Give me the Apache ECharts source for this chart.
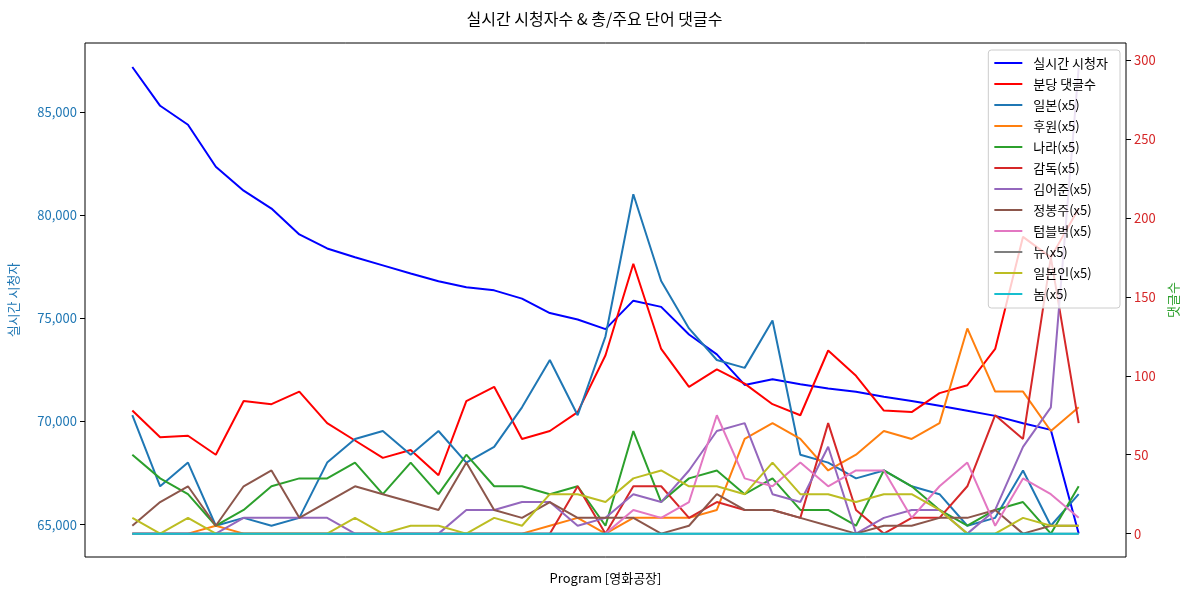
<!DOCTYPE html>
<html>
<head>
<meta charset="utf-8">
<script src="https://cdn.jsdelivr.net/npm/echarts@6/dist/echarts.min.js"></script>
<style>html,body{margin:0;padding:0;background:#fff;}#c{width:1189px;height:592px;}</style>
</head>
<body>
<div id="c"></div>
<script>
// ---- data ----
const viewers = [87170, 85290, 84370, 82340, 81180, 80310, 79060, 78380, 77950, 77560, 77170, 76790, 76500, 76350, 75950, 75250, 74940, 74470, 75850, 75550, 74210, 73250, 71770, 72040, 71800, 71590, 71440, 71200, 70990, 70760, 70520, 70270, 69910, 69590, 64570];
const commentsPerMin = [78, 61, 62, 50, 84, 82, 90, 70, 59, 48, 53, 37, 84, 93, 60, 65, 77, 113, 171, 117, 93, 104, 95, 82, 75, 116, 100, 78, 77, 89, 94, 117, 188, 175, 206];
const japan = [75, 30, 45, 5, 10, 5, 10, 45, 60, 65, 50, 65, 45, 55, 80, 110, 75, 125, 215, 160, 130, 110, 105, 135, 50, 45, 35, 40, 30, 25, 5, 10, 40, 5, 25];
const support = [0, 0, 0, 5, 0, 0, 0, 0, 0, 0, 0, 0, 0, 0, 0, 5, 10, 0, 10, 10, 10, 15, 60, 70, 60, 40, 50, 65, 60, 70, 130, 90, 90, 65, 80];
const nation = [50, 35, 25, 5, 15, 30, 35, 35, 45, 25, 45, 25, 50, 30, 30, 25, 30, 5, 65, 20, 35, 40, 25, 35, 15, 15, 5, 40, 30, 15, 5, 15, 20, 0, 30];
const director = [0, 0, 0, 0, 0, 0, 0, 0, 0, 0, 0, 0, 0, 0, 0, 0, 30, 0, 30, 30, 10, 20, 15, 15, 10, 70, 15, 0, 10, 10, 30, 75, 60, 175, 70];
const kimEojun = [0, 0, 0, 0, 10, 10, 10, 10, 0, 0, 0, 0, 15, 15, 20, 20, 5, 10, 25, 20, 40, 65, 70, 25, 20, 55, 0, 10, 15, 15, 0, 15, 55, 80, 295];
const jungBongju = [5, 20, 30, 5, 30, 40, 10, 20, 30, 25, 20, 15, 45, 15, 10, 20, 10, 10, 10, 0, 5, 25, 15, 15, 10, 5, 0, 5, 5, 10, 10, 15, 0, 5, 5];
const tumblbug = [0, 0, 0, 0, 0, 0, 0, 0, 0, 0, 0, 0, 0, 0, 0, 0, 0, 0, 15, 10, 20, 75, 35, 30, 45, 30, 40, 40, 10, 30, 45, 5, 35, 25, 10];
const news = [0, 0, 0, 0, 0, 0, 0, 0, 0, 0, 0, 0, 0, 0, 0, 0, 0, 0, 0, 0, 0, 0, 0, 0, 0, 0, 0, 0, 0, 0, 0, 0, 0, 0, 0];
const japanese = [10, 0, 10, 0, 0, 0, 0, 0, 10, 0, 5, 5, 0, 10, 5, 25, 25, 20, 35, 40, 30, 30, 25, 45, 25, 25, 20, 25, 25, 15, 0, 0, 10, 5, 5];
const nom = [0, 0, 0, 0, 0, 0, 0, 0, 0, 0, 0, 0, 0, 0, 0, 0, 0, 0, 0, 0, 0, 0, 0, 0, 0, 0, 0, 0, 0, 0, 0, 0, 0, 0, 0];

const leftTicks = [65000, 70000, 75000, 80000, 85000];
const rightTicks = [0, 50, 100, 150, 200, 250, 300];

const wordSeries = [
  ['일본(x5)', japan, '#1f77b4'],
  ['후원(x5)', support, '#ff7f0e'],
  ['나라(x5)', nation, '#2ca02c'],
  ['감독(x5)', director, '#d62728'],
  ['김어준(x5)', kimEojun, '#9467bd'],
  ['정봉주(x5)', jungBongju, '#8c564b'],
  ['텀블벅(x5)', tumblbug, '#e377c2'],
  ['뉴(x5)', news, '#7f7f7f'],
  ['일본인(x5)', japanese, '#bcbd22'],
  ['놈(x5)', nom, '#17becf']
];

const FONT = "'Noto Sans CJK KR', 'Noto Sans', sans-serif";
const pairs = arr => arr.map((v, i) => [i, v]);
const mkLine = (name, arr, color, yIdx) => ({
  name, type: 'line', yAxisIndex: yIdx, data: pairs(arr), symbol: 'none',
  lineStyle: { color, width: 2 }, itemStyle: { color }, animation: false
});

const series = [mkLine('실시간 시청자', viewers, '#0000ff', 0), mkLine('분당 댓글수', commentsPerMin, '#ff0000', 1)];
wordSeries.forEach(w => series.push(mkLine(w[0], w[1], w[2], 1)));

const chart = echarts.init(document.getElementById('c'), null, { renderer: 'canvas' });
chart.setOption({
  animation: false,
  backgroundColor: '#fff',
  textStyle: { fontFamily: FONT },
  title: {
    text: '실시간 시청자수 & 총/주요 단어 댓글수', left: 'center', top: 6,
    textStyle: { fontFamily: FONT, fontSize: 16, fontWeight: 'normal', color: '#000' }
  },
  grid: { left: 85, right: 63, top: 43, bottom: 35, show: true, borderColor: '#000', borderWidth: 1, backgroundColor: 'transparent', outerBoundsMode: 'none', containLabel: false },
  legend: {
    orient: 'vertical', right: 69, top: 50,
    data: series.map(s => s.name),
    icon: 'rect',
    itemWidth: 28, itemHeight: 2, itemGap: 7,
    padding: [6, 12, 7, 6],
    backgroundColor: 'rgba(255,255,255,0.8)', borderColor: '#cccccc', borderWidth: 1, borderRadius: 3,
    textStyle: { fontFamily: FONT, fontSize: 13, lineHeight: 14, color: '#000', padding: [0, 0, 0, 6] }
  },
  xAxis: {
    type: 'value', min: -1.7, max: 35.7,
    axisLabel: { show: false }, axisTick: { show: false }, axisLine: { show: false, onZero: false }, splitLine: { show: false },
    name: 'Program [영화공장]', nameLocation: 'middle', nameGap: 15,
    nameTextStyle: { fontFamily: FONT, fontSize: 13, color: '#000' }
  },
  yAxis: [
    {
      type: 'value', position: 'left', min: 63433, max: 88332,
      splitLine: { show: false }, axisLine: { show: false, onZero: false },
      axisTick: { show: true, length: 5, inside: false, lineStyle: { color: '#000' }, customValues: leftTicks },
      axisLabel: {
        color: '#1f77b4', fontFamily: FONT, fontSize: 13, margin: 8, customValues: leftTicks,
        formatter: v => Math.round(v).toString().replace(/\B(?=(\d{3})+(?!\d))/g, ',')
      },
      name: '실시간 시청자', nameLocation: 'middle', nameGap: 65, nameRotate: 90,
      nameTextStyle: { color: '#1f77b4', fontFamily: FONT, fontSize: 13 }
    },
    {
      type: 'value', position: 'right', min: -14.8, max: 310.8,
      splitLine: { show: false }, axisLine: { show: false, onZero: false },
      axisTick: { show: true, length: 5, inside: false, lineStyle: { color: '#000' }, customValues: rightTicks },
      axisLabel: { color: '#d62728', fontFamily: FONT, fontSize: 13, margin: 8, customValues: rightTicks },
      name: '댓글수', nameLocation: 'middle', nameGap: 40, nameRotate: 90,
      nameTextStyle: { color: '#2ca02c', fontFamily: FONT, fontSize: 13 }
    }
  ],
  series
});
</script>
</body>
</html>
